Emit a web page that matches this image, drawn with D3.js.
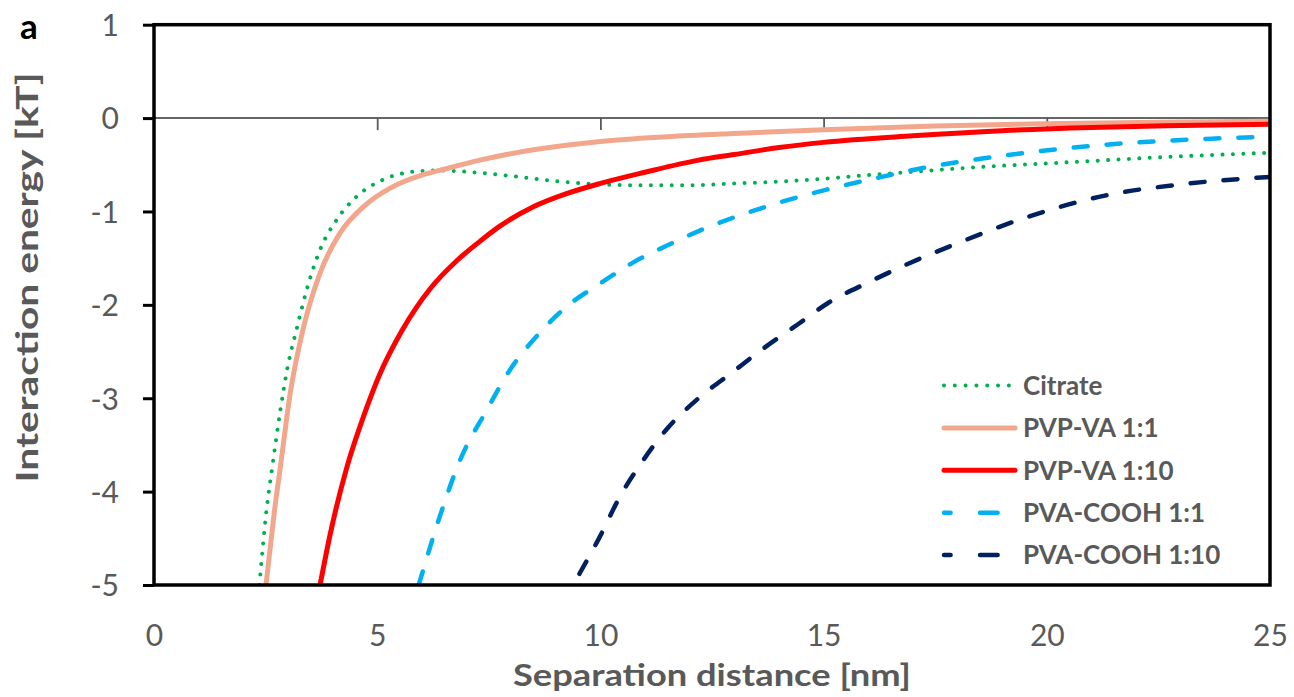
<!DOCTYPE html>
<html>
<head>
<meta charset="utf-8">
<script src="https://cdn.jsdelivr.net/npm/d3@7"></script>
<style>
    body { margin: 0; background: #fff; }
    text { font-family: Lato, "Open Sans", sans-serif; }
</style>
</head>
<body>
<svg id="chart"></svg>
<script>
// values: [separation distance nm, interaction energy kT]
const xTicks = [0, 5, 10, 15, 20, 25];
const yTicks = [1, 0, -1, -2, -3, -4, -5];
const seriesNames = ["Citrate", "PVP-VA 1:1", "PVP-VA 1:10", "PVA-COOH 1:1", "PVA-COOH 1:10"];

const citrate = [[2.36, -5.0], [2.52, -4.2], [2.66, -3.7], [2.83, -3.13], [3.0, -2.65], [3.2, -2.25], [3.42, -1.84],
    [3.72, -1.41], [4.09, -1.09], [4.54, -0.84], [5.13, -0.66], [5.8, -0.575], [6.4, -0.56], [7, -0.575], [8, -0.62],
    [9, -0.675], [10, -0.71], [11, -0.72], [12, -0.72], [13, -0.70], [14, -0.68], [15, -0.65], [16, -0.61], [17, -0.575],
    [18, -0.54], [19, -0.51], [20, -0.485], [21, -0.46], [22.5, -0.42], [24, -0.39], [25, -0.37]];
const pvpVa11 = [[2.51, -5.0], [2.57, -4.74], [2.7, -4.2], [2.83, -3.74], [3.05, -2.95], [3.35, -2.24], [3.72, -1.66],
    [4.17, -1.23], [4.69, -0.95], [5.29, -0.75], [6.0, -0.61], [6.4, -0.56], [7.3, -0.45], [8.5, -0.34], [10, -0.25],
    [11.5, -0.2], [13, -0.165], [15, -0.125], [17.5, -0.085], [20, -0.06], [22.5, -0.045], [25, -0.035]];
const pvpVa110 = [[3.72, -5.0], [3.95, -4.45], [4.32, -3.74], [4.69, -3.2], [5.06, -2.74], [5.55, -2.28], [6.2, -1.82],
    [6.8, -1.52], [7.3, -1.32], [7.74, -1.16], [8.5, -0.95], [9.24, -0.81], [10, -0.70], [11, -0.58], [12.2, -0.45],
    [13, -0.39], [14, -0.315], [15, -0.26], [17, -0.19], [19, -0.135], [21, -0.1], [23, -0.08], [25, -0.065]];
const pvaCooh11 = [[5.93, -5.0], [6.4, -4.27], [6.85, -3.67], [7.45, -3.13], [7.97, -2.7], [8.64, -2.3], [9.24, -2.02],
    [10, -1.77], [10.72, -1.55], [11.47, -1.37], [12.2, -1.21], [13.7, -0.95], [15.2, -0.75], [16.3, -0.63],
    [17.06, -0.55], [18.9, -0.41], [21.2, -0.29], [23.7, -0.22], [25, -0.2]];
const pvaCooh110 = [[9.53, -4.88], [9.98, -4.49], [10.43, -4.06], [10.95, -3.67], [11.47, -3.34], [12.2, -3.0],
    [12.96, -2.72], [13.7, -2.45], [14.45, -2.2], [15.1, -1.98], [16.0, -1.76], [16.8, -1.58], [18, -1.34],
    [19.5, -1.07], [21.3, -0.83], [23, -0.71], [25, -0.63]];

const seriesData = [citrate, pvpVa11, pvpVa110, pvaCooh11, pvaCooh110];

const styles = [
    { color: "#00b050", width: 4, dash: "0.01 10.4" },
    { color: "#f2a68b", width: 5, dash: null },
    { color: "#ff0000", width: 5, dash: null },
    { color: "#00b0f0", width: 4.5, dash: "14 19" },
    { color: "#002060", width: 4.5, dash: "14 19" }
];
// legend samples are drawn a little differently from the plot lines
const legendDash = ["0.01 10.8", null, null, "6.6 29.4 17.6 100", "6.6 29.4 17.6 100"];

const width = 1294, height = 697;
const margin = { top: 24.7, right: 24, bottom: 112, left: 154 };
const innerW = width - margin.left - margin.right;
const innerH = height - margin.top - margin.bottom;
const textGray = "#595959";

const svg = d3.select("#chart").attr("width", width).attr("height", height);
const g = svg.append("g").attr("transform", `translate(${margin.left},${margin.top})`);

const x = d3.scaleLinear().domain([0, 25]).range([0, innerW]);
const y = d3.scaleLinear().domain([-5, 1]).range([innerH, 0]);

svg.append("defs").append("clipPath").attr("id", "plotClip")
    .append("rect").attr("width", innerW).attr("height", innerH);

// zero line with its small ticks
g.append("line")
    .attr("x1", 0).attr("x2", innerW)
    .attr("y1", y(0)).attr("y2", y(0))
    .attr("stroke", "#333").attr("stroke-width", 1.5);

const zeroAxis = g.append("g")
    .attr("transform", `translate(0,${y(0)})`)
    .call(d3.axisBottom(x).tickValues(xTicks.slice(1, -1)).tickSize(12).tickFormat(""));
zeroAxis.select(".domain").remove();
zeroAxis.selectAll("line").attr("stroke", "#595959").attr("stroke-width", 1.8);

// y axis
const yAxis = g.append("g")
    .call(d3.axisLeft(y).tickValues(yTicks).tickSize(11).tickPadding(24).tickFormat(d3.format("d")));
yAxis.select(".domain").remove();
yAxis.selectAll("line").attr("stroke", "#000").attr("stroke-width", 3);
yAxis.selectAll("text")
    .attr("fill", textGray)
    .attr("font-size", 30)
    .attr("dy", "0.36em")
    .style("font-family", "Lato, sans-serif")
    .text(d => d < 0 ? "-" + Math.abs(d) : d);

// x axis labels under the frame
const xAxis = g.append("g")
    .attr("transform", `translate(0,${innerH})`)
    .call(d3.axisBottom(x).tickValues(xTicks).tickSize(0));
xAxis.select(".domain").remove();
xAxis.selectAll("text")
    .attr("fill", textGray)
    .attr("font-size", 30)
    .attr("y", 61)
    .attr("dy", null)
    .style("font-family", "Lato, sans-serif");

// curves
const line = d3.line()
    .x(d => x(d[0]))
    .y(d => y(d[1]))
    .curve(d3.curveMonotoneX);

g.append("g").attr("clip-path", "url(#plotClip)")
    .selectAll("path")
    .data(seriesData)
    .join("path")
    .attr("d", line)
    .attr("fill", "none")
    .attr("stroke", (d, i) => styles[i].color)
    .attr("stroke-width", (d, i) => styles[i].width)
    .attr("stroke-dasharray", (d, i) => styles[i].dash)
    .attr("stroke-linecap", "round")
    .attr("stroke-linejoin", "round");

// frame
g.append("rect")
    .attr("width", innerW).attr("height", innerH)
    .attr("fill", "none")
    .attr("stroke", "#000")
    .attr("stroke-width", 3.5);

// legend
const legend = svg.append("g").attr("transform", "translate(944,385.5)");
const rows = legend.selectAll("g")
    .data(seriesNames)
    .join("g")
    .attr("transform", (d, i) => `translate(0,${i * 42.4})`);
rows.append("line")
    .attr("x1", 0).attr("x2", (d, i) => i === 0 ? 66 : 71)
    .attr("stroke", (d, i) => styles[i].color)
    .attr("stroke-width", (d, i) => styles[i].width)
    .attr("stroke-dasharray", (d, i) => legendDash[i])
    .attr("stroke-linecap", "round");
rows.append("text")
    .attr("x", 79)
    .attr("dy", "0.36em")
    .attr("fill", textGray)
    .attr("font-size", 26)
    .attr("font-weight", "bold")
    .text(d => d);

// axis titles (the original font is wider than Lato, so stretch to its length)
svg.append("text")
    .attr("x", margin.left + innerW / 2)
    .attr("y", 686)
    .attr("text-anchor", "middle")
    .attr("fill", textGray)
    .attr("font-size", 31)
    .attr("font-weight", "bold")
    .attr("textLength", 398)
    .attr("lengthAdjust", "spacingAndGlyphs")
    .text("Separation distance [nm]");

svg.append("text")
    .attr("transform", "translate(38,277.5) rotate(-90)")
    .attr("text-anchor", "middle")
    .attr("fill", textGray)
    .attr("font-size", 31)
    .attr("font-weight", "bold")
    .attr("textLength", 410)
    .attr("lengthAdjust", "spacingAndGlyphs")
    .text("Interaction energy [kT]");

svg.append("text")
    .attr("x", 20)
    .attr("y", 39)
    .attr("fill", "#000")
    .attr("font-size", 35)
    .attr("font-weight", "bold")
    .text("a");
</script>
</body>
</html>
